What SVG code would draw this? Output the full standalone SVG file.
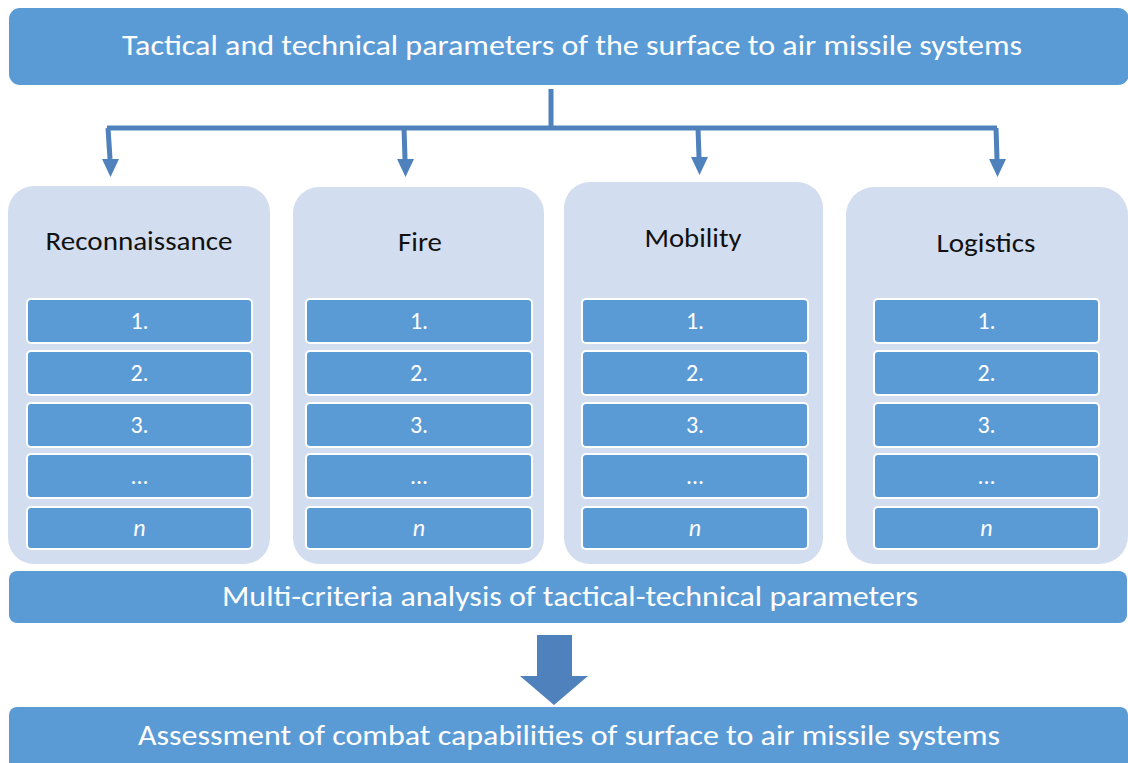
<svg xmlns="http://www.w3.org/2000/svg" width="1128" height="763" viewBox="0 0 1128 763">
  <defs>
    <style>
      .band { fill: #5B9BD5; }
      .col { fill: #D2DEEF; }
      .item { fill: #5B9BD5; stroke: #FFFFFF; stroke-width: 2; }
      .wt { fill: #FFFFFF; font-family: Carlito, Lato, "Open Sans", sans-serif; text-anchor: middle; }
      .bt { fill: #111111; font-family: Carlito, Lato, "Open Sans", sans-serif; text-anchor: middle; font-size: 26px; }
      .it { font-size: 24px; }
      .big { font-size: 28px; }
      .link { fill: none; stroke: #4F81BD; stroke-width: 5; }
      .tip { fill: #4F81BD; }
    </style>
  </defs>

  <!-- top band -->
  <g id="params">
    <rect class="band" x="9" y="8" width="1120" height="77" rx="11"/>
    <text class="wt big" x="572" y="55" textLength="900" lengthAdjust="spacingAndGlyphs">Tactical and technical parameters of the surface to air missile systems</text>
  </g>

  <!-- branch connectors -->
  <g id="connectors">
    <path class="link" d="M551,89 V128 M107,128 H997"/>
    <path class="link" d="M108,128 L110,159"/>
    <path class="link" d="M404,128 L405,159"/>
    <path class="link" d="M698,128 L699,157"/>
    <path class="link" d="M996,128 L997,159"/>
    <path class="tip" d="M102,159 L119,159 L110.5,177 Z"/>
    <path class="tip" d="M397,159 L414,159 L405.5,177 Z"/>
    <path class="tip" d="M691,157 L708,157 L699.5,175 Z"/>
    <path class="tip" d="M989,159 L1006,159 L997.5,177 Z"/>
    <!-- block arrow between analysis and assessment -->
    <path class="tip" d="M537,635 H572 V676 H588 L554,705 L520,676 H537 Z"/>
  </g>

  <!-- column: Reconnaissance -->
  <g id="reconnaissance">
    <rect class="col" x="8" y="186" width="262" height="378" rx="26"/>
    <text class="bt" x="139" y="250" textLength="187" lengthAdjust="spacingAndGlyphs">Reconnaissance</text>
    <rect class="item" x="27" y="299" width="225" height="44" rx="4"/>
    <text class="wt it" x="139.5" y="329">1.</text>
    <rect class="item" x="27" y="351" width="225" height="44" rx="4"/>
    <text class="wt it" x="139.5" y="381">2.</text>
    <rect class="item" x="27" y="403" width="225" height="44" rx="4"/>
    <text class="wt it" x="139.5" y="433">3.</text>
    <rect class="item" x="27" y="454" width="225" height="44" rx="4"/>
    <text class="wt it" x="139.5" y="484">...</text>
    <rect class="item" x="27" y="507" width="225" height="42" rx="4"/>
    <text class="wt it" x="139.5" y="536" font-style="italic">n</text>
  </g>

  <!-- column: Fire -->
  <g id="fire">
    <rect class="col" x="293" y="187" width="251" height="377" rx="26"/>
    <text class="bt" x="420" y="251" textLength="44" lengthAdjust="spacingAndGlyphs">Fire</text>
    <rect class="item" x="306" y="299" width="226" height="44" rx="4"/>
    <text class="wt it" x="419" y="329">1.</text>
    <rect class="item" x="306" y="351" width="226" height="44" rx="4"/>
    <text class="wt it" x="419" y="381">2.</text>
    <rect class="item" x="306" y="403" width="226" height="44" rx="4"/>
    <text class="wt it" x="419" y="433">3.</text>
    <rect class="item" x="306" y="454" width="226" height="44" rx="4"/>
    <text class="wt it" x="419" y="484">...</text>
    <rect class="item" x="306" y="507" width="226" height="42" rx="4"/>
    <text class="wt it" x="419" y="536" font-style="italic">n</text>
  </g>

  <!-- column: Mobility -->
  <g id="mobility">
    <rect class="col" x="564" y="182" width="259" height="382" rx="26"/>
    <text class="bt" x="693" y="247" textLength="97" lengthAdjust="spacingAndGlyphs">Mobility</text>
    <rect class="item" x="582" y="299" width="226" height="44" rx="4"/>
    <text class="wt it" x="695" y="329">1.</text>
    <rect class="item" x="582" y="351" width="226" height="44" rx="4"/>
    <text class="wt it" x="695" y="381">2.</text>
    <rect class="item" x="582" y="403" width="226" height="44" rx="4"/>
    <text class="wt it" x="695" y="433">3.</text>
    <rect class="item" x="582" y="454" width="226" height="44" rx="4"/>
    <text class="wt it" x="695" y="484">...</text>
    <rect class="item" x="582" y="507" width="226" height="42" rx="4"/>
    <text class="wt it" x="695" y="536" font-style="italic">n</text>
  </g>

  <!-- column: Logistics -->
  <g id="logistics">
    <rect class="col" x="846" y="187" width="282" height="377" rx="28"/>
    <text class="bt" x="986" y="252" textLength="99" lengthAdjust="spacingAndGlyphs">Logistics</text>
    <rect class="item" x="874" y="299" width="225" height="44" rx="4"/>
    <text class="wt it" x="986.5" y="329">1.</text>
    <rect class="item" x="874" y="351" width="225" height="44" rx="4"/>
    <text class="wt it" x="986.5" y="381">2.</text>
    <rect class="item" x="874" y="403" width="225" height="44" rx="4"/>
    <text class="wt it" x="986.5" y="433">3.</text>
    <rect class="item" x="874" y="454" width="225" height="44" rx="4"/>
    <text class="wt it" x="986.5" y="484">...</text>
    <rect class="item" x="874" y="507" width="225" height="42" rx="4"/>
    <text class="wt it" x="986.5" y="536" font-style="italic">n</text>
  </g>

  <!-- analysis band -->
  <g id="analysis">
    <rect class="band" x="9" y="571" width="1118" height="52" rx="8"/>
    <text class="wt big" x="570" y="606" textLength="696" lengthAdjust="spacingAndGlyphs">Multi-criteria analysis of tactical-technical parameters</text>
  </g>

  <!-- assessment band -->
  <g id="assessment">
    <rect class="band" x="9" y="707" width="1119" height="70" rx="8"/>
    <text class="wt big" x="569" y="745" textLength="862" lengthAdjust="spacingAndGlyphs">Assessment of combat capabilities of surface to air missile systems</text>
  </g>
</svg>
